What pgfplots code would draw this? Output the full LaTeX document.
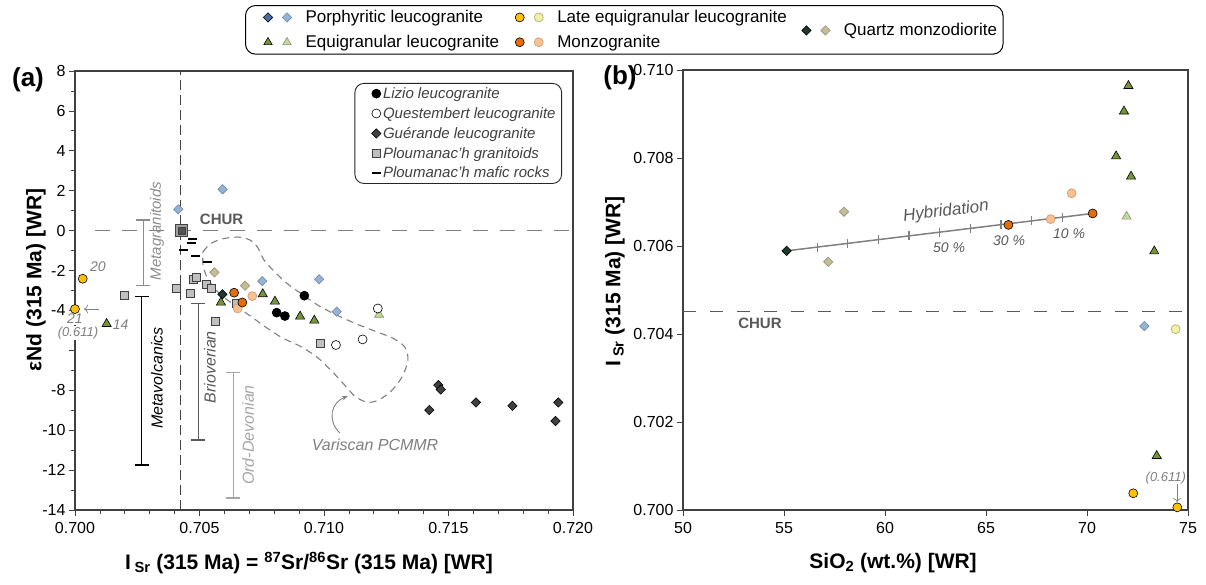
\documentclass[border=0pt]{standalone}
\usepackage{fontspec}
\setmainfont{Liberation Sans}
\usepackage{pgfplots}
\pgfplotsset{compat=1.18}
\usetikzlibrary{arrows.meta}

\definecolor{pdark}{HTML}{4A6FA5}
\definecolor{plight}{HTML}{95B3D7}
\definecolor{ldark}{HTML}{FFC000}
\definecolor{llight}{HTML}{EEF2A2}
\definecolor{edark}{HTML}{77933C}
\definecolor{elight}{HTML}{C3D69B}
\definecolor{mdark}{HTML}{E46C0A}
\definecolor{mlight}{HTML}{FAC090}
\definecolor{qdark}{HTML}{1E3A2A}
\definecolor{qlight}{HTML}{C4BD97}
\definecolor{guer}{HTML}{404040}
\definecolor{ploum}{HTML}{BFBFBF}
\definecolor{txtgray}{HTML}{7F7F7F}
\definecolor{axgray}{HTML}{404040}
\definecolor{chur}{HTML}{595959}

\newcommand{\fs}[1]{\fontsize{#1}{#1}\selectfont}

\tikzset{
  diam/.style 2 args={mark=square*, mark size=3.3pt, mark options={rotate=45, fill=#1, draw=#2, line width=0.6pt, solid}},
  circ/.style 2 args={mark=*, mark size=4.5pt, mark options={fill=#1, draw=#2, line width=0.6pt, solid}},
  tri/.style 2 args={mark=triangle*, mark size=5.3pt, mark options={fill=#1, draw=#2, line width=0.6pt, solid}},
  sq/.style 2 args={mark=square*, mark size=4pt, mark options={fill=#1, draw=#2, line width=0.6pt, solid}},
}
\pgfplotsset{
  diam/.style 2 args={mark=square*, mark size=3.3pt, mark options={rotate=45, fill=#1, draw=#2, line width=0.6pt, solid}},
  circ/.style 2 args={mark=*, mark size=4.5pt, mark options={fill=#1, draw=#2, line width=0.6pt, solid}},
  tri/.style 2 args={mark=triangle*, mark size=5.3pt, mark options={fill=#1, draw=#2, line width=0.6pt, solid}},
  sq/.style 2 args={mark=square*, mark size=4pt, mark options={fill=#1, draw=#2, line width=0.6pt, solid}},
  myaxis/.style={
    scale only axis, clip=false,
    axis line style={axgray, line width=1.2pt},
    tick align=outside, tick pos=left,
    major tick length=6pt, minor tick length=4pt,
    every tick/.style={axgray, line width=0.8pt},
    tick label style={font=\fs{16}},
    xticklabel style={yshift=-3pt},
    label style={font=\fs{21}\bfseries},
  },
}

\begin{document}
\begin{tikzpicture}[x=1pt,y=1pt]
% ---------------- panel (a) ----------------
\begin{axis}[myaxis,
  at={(75pt,-510pt)}, anchor=south west,
  width=498pt, height=439pt,
  xmin=0.7, xmax=0.72, ymin=-14, ymax=8,
  xtick={0.7,0.705,0.71,0.715,0.72},
  xticklabels={0.700,0.705,0.710,0.715,0.720},
  minor x tick num=4,
  ytick={-14,-12,-10,-8,-6,-4,-2,0,2,4,6,8},
  yticklabels={-14,-12,-10,-8,,-4,-2,0,2,4,6,8},
  minor y tick num=1,
  xlabel={I\,\textsubscript{Sr} (315 Ma) = \textsuperscript{87}Sr/\textsuperscript{86}Sr (315 Ma) [WR]},
  xlabel style={at={(axis description cs:0.47,-0.1207)}, anchor=center},
  ylabel={εNd (315 Ma) [WR]},
  ylabel style={at={(axis description cs:-0.0783,0.524)}, anchor=center},
  legend cell align=left,
  legend style={at={(0.978,0.9727)}, anchor=north east, draw=black!85, line width=0.9pt,
    rounded corners=9pt, font=\fs{15}\itshape, text=black!75, inner xsep=4pt, inner ysep=2pt,
    row sep=3.5pt},
]
\addlegendimage{legend image code/.code={\path (-17pt,0pt) (3pt,0pt);\draw plot[only marks, circ={black}{black}] coordinates {(0pt,0pt)};}}
\addlegendentry{Lizio leucogranite}
\addlegendimage{legend image code/.code={\path (-17pt,0pt) (3pt,0pt);\draw plot[only marks, circ={white}{black}] coordinates {(0pt,0pt)};}}
\addlegendentry{Questembert leucogranite}
\addlegendimage{legend image code/.code={\path (-17pt,0pt) (3pt,0pt);\draw plot[only marks, diam={guer}{black}] coordinates {(0pt,0pt)};}}
\addlegendentry{Guérande leucogranite}
\addlegendimage{legend image code/.code={\path (-17pt,0pt) (3pt,0pt);\draw plot[only marks, sq={ploum}{axgray}] coordinates {(0pt,0pt)};}}
\addlegendentry{Ploumanac'h granitoids}
\addlegendimage{legend image code/.code={\path (-17pt,0pt) (3pt,0pt);\draw plot[only marks, mark=-, mark size=4.5pt, mark options={line width=2pt, black}] coordinates {(0pt,0pt)};}}
\addlegendentry{Ploumanac'h mafic rocks}

% Variscan PCMMR field
\addplot[forget plot, txtgray, line width=1.1pt, dash pattern=on 7pt off 5pt, smooth, tension=0.5] coordinates {
(0.70514,-1.07) (0.70542,-0.67) (0.70590,-0.42) (0.70651,-0.32) (0.70703,-0.47) (0.70735,-0.87)
(0.70759,-1.47) (0.70803,-2.08) (0.70855,-2.68) (0.70912,-3.19) (0.70976,-3.74) (0.71044,-4.19)
(0.71124,-4.64) (0.71205,-5.04) (0.71277,-5.39) (0.71325,-5.84) (0.71337,-6.49) (0.71313,-7.34)
(0.71269,-8.05) (0.71217,-8.50) (0.71173,-8.60) (0.71124,-8.30) (0.71084,-7.75) (0.71032,-7.05)
(0.70972,-6.34) (0.70904,-5.79) (0.70835,-5.39) (0.70771,-4.88) (0.70711,-4.34) (0.70647,-3.78)
(0.70582,-3.18) (0.70534,-2.43) (0.70514,-1.73) (0.70514,-1.07)};
% CHUR and reference line
\addplot[forget plot, txtgray, line width=1.3pt, dash pattern=on 15pt off 12pt] coordinates {(0.7008,0) (0.72,0)};
\addplot[forget plot, axgray, line width=0.9pt, dash pattern=on 10pt off 5pt] coordinates {(0.70425,-14) (0.70425,8)};
% range bars
\addplot[forget plot, color={rgb,255:red,140;green,140;blue,140}, line width=1.4pt, mark=-, mark size=7pt, mark options={solid}] coordinates {(0.70274,0.53) (0.70274,-2.76)};
\addplot[forget plot, black, line width=1.4pt, mark=-, mark size=7pt, mark options={solid}] coordinates {(0.70268,-3.31) (0.70268,-11.75)};
\addplot[forget plot, chur, line width=1.4pt, mark=-, mark size=7pt, mark options={solid}] coordinates {(0.70495,-3.64) (0.70495,-10.5)};
\addplot[forget plot, color={rgb,255:red,166;green,166;blue,166}, line width=1.4pt, mark=-, mark size=7pt, mark options={solid}] coordinates {(0.70636,-7.12) (0.70636,-13.4)};

% Ploumanac'h granitoids
\addplot[forget plot, only marks, sq={ploum}{axgray}] coordinates {
(0.70197,-3.23) (0.70408,-2.89) (0.70462,-3.14) (0.70475,-2.43) (0.70486,-2.34) (0.70529,-2.69)
(0.70549,-2.89) (0.70562,-4.53) (0.70649,-3.64) (0.70984,-5.65)};
\addplot[forget plot, only marks, mark=square*, mark size=6pt, mark options={fill=gray!75, draw=axgray, line width=0.8pt}] coordinates {(0.70428,0.0)};
\addplot[forget plot, only marks, mark=square*, mark size=3.5pt, mark options={fill=axgray!90, draw=axgray}] coordinates {(0.70428,0.0)};
% Ploumanac'h mafic rocks
\addplot[forget plot, only marks, mark=-, mark size=4.5pt, mark options={line width=2pt, black}] coordinates {
(0.70471,-0.44) (0.70469,-0.64) (0.70435,-0.97) (0.70485,-1.27) (0.70531,-1.56)};
% Porphyritic
\addplot[forget plot, only marks, diam={plight}{plight!75!black}] coordinates {
(0.70415,1.07) (0.70593,2.07) (0.70752,-2.53) (0.70980,-2.44) (0.71051,-4.06)};
% Quartz monzodiorite
\addplot[forget plot, only marks, diam={qlight}{qlight!75!black}] coordinates {(0.70560,-2.09) (0.70683,-2.76)};
\addplot[forget plot, only marks, diam={qdark}{black}] coordinates {(0.70592,-3.19)};
% Equigranular
\addplot[forget plot, only marks, tri={edark}{black}] coordinates {
(0.70127,-4.67) (0.70586,-3.6) (0.70754,-3.18) (0.70803,-3.55) (0.70904,-4.3) (0.70961,-4.5)};
\addplot[forget plot, only marks, tri={elight}{elight!70!black}] coordinates {(0.71221,-4.21)};
% Monzogranite
\addplot[forget plot, only marks, circ={mlight}{mlight!80!black}] coordinates {(0.70712,-3.28) (0.70653,-3.90)};
\addplot[forget plot, only marks, circ={mdark}{black}] coordinates {(0.70639,-3.11) (0.70672,-3.60)};
% Late equigranular
\addplot[forget plot, only marks, circ={ldark}{black}] coordinates {(0.70031,-2.41) (0.70000,-3.93)};
% Lizio
\addplot[forget plot, only marks, circ={black}{black}] coordinates {(0.70921,-3.26) (0.70810,-4.11) (0.70843,-4.28)};
% Questembert
\addplot[forget plot, only marks, circ={white}{black}] coordinates {(0.71216,-3.90) (0.71048,-5.73) (0.71155,-5.45)};
% Guerande
\addplot[forget plot, only marks, diam={guer}{black}] coordinates {
(0.71459,-7.74) (0.71469,-7.96) (0.71423,-8.99) (0.71610,-8.61) (0.71757,-8.78) (0.71941,-8.61) (0.71930,-9.54)};

% annotations
\node[font=\fs{15}\bfseries, text=chur] at (axis cs:0.70589,0.58) {CHUR};
\node[font=\fs{15}\itshape, text={rgb,255:red,140;green,140;blue,140}, rotate=90] at (axis cs:0.70329,-0.02) {Metagranitoids};
\node[font=\fs{16}\itshape, text=black, rotate=90] at (axis cs:0.70329,-7.39) {Metavolcanics};
\node[font=\fs{16}\itshape, text=chur, rotate=90] at (axis cs:0.70542,-6.84) {Brioverian};
\node[font=\fs{16}\itshape, text={rgb,255:red,166;green,166;blue,166}, rotate=90] at (axis cs:0.70695,-10.24) {Ord-Devonian};
\node[font=\fs{16}\itshape, text=txtgray] at (axis cs:0.71205,-10.75) {Variscan PCMMR};
\draw[txtgray, line width=0.9pt, -{Stealth[length=6pt]}] (axis cs:0.71064,-10.14) .. controls (axis cs:0.71010,-9.5) and (axis cs:0.71030,-8.6) .. (axis cs:0.71096,-8.29);
\node[font=\fs{14}\itshape, text=txtgray] at (axis cs:0.70092,-1.82) {20};
\node[font=\fs{14}\itshape, text=txtgray, fill=white, inner sep=1pt] at (axis cs:0.70000,-4.42) {21};
\node[font=\fs{13}\itshape, text=txtgray, fill=white, inner sep=1pt] at (axis cs:0.70012,-5.12) {(0.611)};
\node[font=\fs{14}\itshape, text=txtgray, anchor=west] at (axis cs:0.70138,-4.72) {14};
\draw[txtgray, line width=0.7pt, -{To[length=4pt]}] (axis cs:0.70095,-3.93) -- (axis cs:0.70036,-3.93);
\end{axis}

% ---------------- panel (b) ----------------
\begin{axis}[myaxis,
  at={(683pt,-510pt)}, anchor=south west,
  width=505pt, height=440pt,
  xmin=50, xmax=75, ymin=0.7, ymax=0.71,
  xtick={50,55,60,65,70,75},
  xticklabels={50,55,60,65,70,75},
  ytick={0.7,0.702,0.704,0.706,0.708,0.71},
  yticklabels={0.700,0.702,0.704,0.706,0.708,0.710},
  xlabel={SiO\textsubscript{2} (wt.\%) [WR]},
  xlabel style={at={(axis description cs:0.416,-0.1205)}, anchor=center},
  ylabel={I\,\textsubscript{Sr} (315 Ma) [WR]},
  ylabel style={at={(axis description cs:-0.1347,0.520)}, anchor=center},
  legend columns=3,
  legend cell align=left,
  legend style={at={(-0.8673,1.1477)}, anchor=north west, draw=black, line width=1pt,
    rounded corners=10pt, font=\fs{17}, inner xsep=4pt, inner ysep=3pt, row sep=7pt,
    /tikz/every even column/.append style={column sep=8pt}},
]
\addlegendimage{legend image code/.code={
  \path (-18pt,0pt) (35pt,0pt);
  \draw plot[only marks, diam={pdark}{black}] coordinates {(0pt,0pt)};
  \draw plot[only marks, diam={plight}{plight!75!black}] coordinates {(19pt,0pt)};}}
\addlegendentry{Porphyritic leucogranite}
\addlegendimage{legend image code/.code={
  \path (-10pt,0pt) (35pt,0pt);
  \draw plot[only marks, circ={ldark}{black}] coordinates {(0pt,0pt)};
  \draw plot[only marks, circ={llight}{llight!70!black}] coordinates {(19pt,0pt)};}}
\addlegendentry{Late equigranular leucogranite}
\addlegendimage{legend image code/.code={
  \path (-9pt,0pt) (35pt,0pt);
  \draw[overlay] plot[only marks, diam={qdark}{black}] coordinates {(0pt,-13pt)};
  \draw[overlay] plot[only marks, diam={qlight}{qlight!75!black}] coordinates {(19pt,-13pt)};}}
\addlegendentry{\vphantom{Ag}\smash{\raisebox{-13pt}{Quartz monzodiorite}}}
\addlegendimage{legend image code/.code={
  \path (-18pt,0pt) (35pt,0pt);
  \draw plot[only marks, tri={edark}{black}, mark size=4.8pt] coordinates {(0pt,0pt)};
  \draw plot[only marks, tri={elight}{elight!70!black}, mark size=4.8pt] coordinates {(19pt,0pt)};}}
\addlegendentry{Equigranular leucogranite}
\addlegendimage{legend image code/.code={
  \path (-10pt,0pt) (35pt,0pt);
  \draw plot[only marks, circ={mdark}{black}] coordinates {(0pt,0pt)};
  \draw plot[only marks, circ={mlight}{mlight!80!black}] coordinates {(19pt,0pt)};}}
\addlegendentry{Monzogranite}
\addlegendimage{empty legend}
\addlegendentry{}

% CHUR
\addplot[forget plot, chur, line width=1.2pt, dash pattern=on 13pt off 14pt] coordinates {(50,0.70451) (75,0.70451)};
\node[font=\fs{15}\bfseries, text=chur] at (axis cs:53.81,0.70424) {CHUR};
% Hybridation
\addplot[forget plot, gray, line width=1.5pt] coordinates {(55.13,0.70589) (70.28,0.70674)};
\addplot[forget plot, only marks, gray, mark=|, mark size=4.5pt, mark options={line width=1.2pt}] coordinates {
(56.65,0.705975) (58.16,0.70606) (59.68,0.706145) (61.19,0.70623) (62.71,0.706315) (64.22,0.70640)
(65.74,0.706485) (67.25,0.70657) (68.77,0.706655)};
\node[font=\fs{17}\itshape, text=chur, rotate=7] at (axis cs:63.02,0.70678) {Hybridation};
\node[font=\fs{14}\itshape, text=chur] at (axis cs:63.17,0.70596) {50 \%};
\node[font=\fs{14}\itshape, text=chur] at (axis cs:66.14,0.70611) {30 \%};
\node[font=\fs{14}\itshape, text=chur] at (axis cs:69.11,0.70627) {10 \%};
% data
\addplot[forget plot, only marks, diam={qlight}{qlight!75!black}] coordinates {(57.97,0.70678) (57.19,0.70564)};
\addplot[forget plot, only marks, diam={qdark}{black}] coordinates {(55.13,0.70589)};
\addplot[forget plot, only marks, diam={plight}{plight!75!black}] coordinates {(72.84,0.70418)};
\addplot[forget plot, only marks, circ={llight}{llight!70!black}] coordinates {(74.39,0.70411)};
\addplot[forget plot, only marks, circ={ldark}{black}] coordinates {(72.29,0.70038) (74.47,0.70006)};
\addplot[forget plot, only marks, tri={edark}{black}] coordinates {
(72.05,0.70964) (71.83,0.70906) (71.44,0.70804) (72.18,0.70758) (73.33,0.70588) (73.45,0.70123)};
\addplot[forget plot, only marks, tri={elight}{elight!70!black}] coordinates {(71.96,0.70667)};
\addplot[forget plot, only marks, circ={mlight}{mlight!80!black}] coordinates {(68.2,0.70661) (69.24,0.70720)};
\addplot[forget plot, only marks, circ={mdark}{black}] coordinates {(66.11,0.70648) (70.28,0.70674)};
\node[font=\fs{13}\itshape, text=txtgray] at (axis cs:73.90,0.70072) {(0.611)};
\draw[txtgray, line width=0.7pt, -{To[length=4pt]}] (axis cs:74.46,0.70059) -- (axis cs:74.46,0.70018);
\end{axis}

\node[font=\fs{26}\bfseries] at (28pt,-80pt) {(a)};
\node[font=\fs{26}\bfseries] at (620pt,-78pt) {(b)};
\pgfresetboundingbox
\path[use as bounding box] (0pt,0pt) rectangle (1206pt,-585pt);
\end{tikzpicture}
\end{document}
